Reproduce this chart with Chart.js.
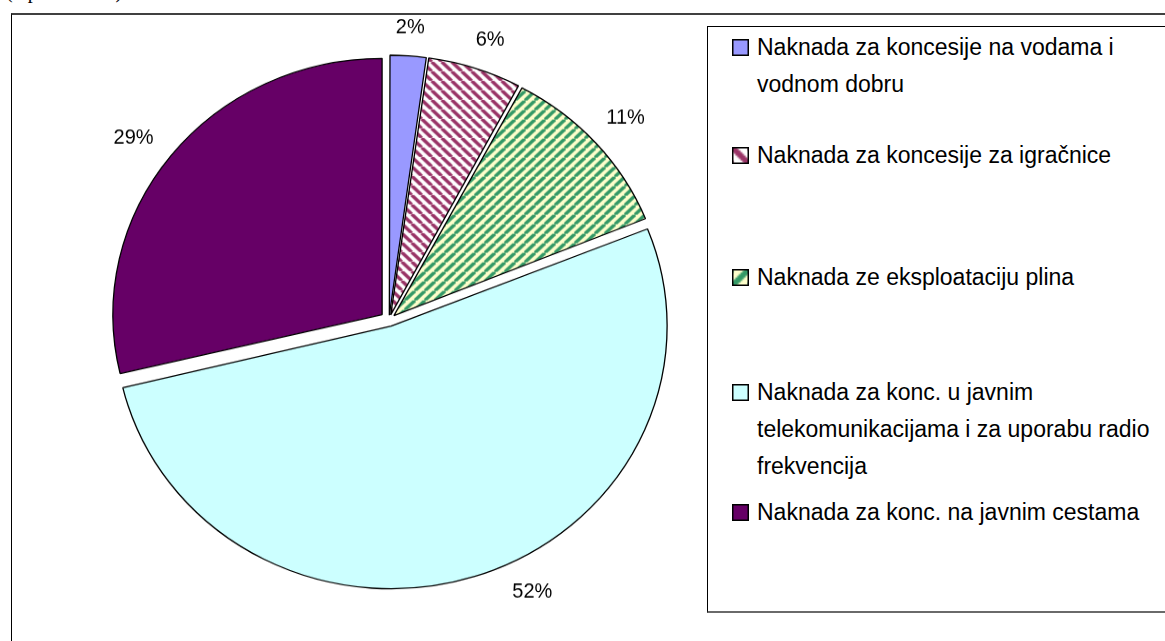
<!DOCTYPE html>
<html>
<head>
<meta charset="utf-8">
<script src="https://cdn.jsdelivr.net/npm/chart.js@4/dist/chart.umd.min.js"></script>
<style>
    html, body { margin: 0; padding: 0; background: #fff; }
    body { width: 1165px; height: 641px; position: relative; overflow: hidden; font-family: "Liberation Sans", Arial, sans-serif; }
    #caption { position: absolute; left: 6px; top: -20px; font: 20px "Liberation Serif", serif; color: #000; }
    #frame { position: absolute; left: 11px; top: 13px; width: 2000px; height: 2000px; border-top: 2px solid #404040; border-left: 1px solid #000; }
    #pieWrap { position: absolute; left: 0; top: 0; transform-origin: 0 0; }
    #legend { position: absolute; left: 707px; top: 26px; width: 1000px; height: 584px; background: #fff; border: 1px solid #000; border-bottom: 2px solid #6a6a6a; }
    .item { position: absolute; left: 24px; font-size: 23px; line-height: 37px; color: #000; white-space: nowrap; }
    .item canvas { position: absolute; left: 0; top: 10px; }
    .item .txt { position: absolute; left: 25px; top: 0; }
</style>
</head>
<body>
<div id="caption">(u postotcima)</div>
<div id="frame"></div>
<div id="pieWrap"><canvas id="pieChart" width="778" height="672"></canvas></div>
<div id="legend"></div>

<script>
/* ================= DATA ================= */

const categories = [
    ["Naknada za koncesije na vodama i", "vodnom dobru"],
    ["Naknada za koncesije za igračnice"],
    ["Naknada ze eksploataciju plina"],
    ["Naknada za konc. u javnim", "telekomunikacijama i za uporabu radio", "frekvencija"],
    ["Naknada za konc. na javnim cestama"]
];

const shares = [2.2, 5.6, 11.1, 52.4, 28.7];

/* ================= STYLE ================= */

const squash = 256 / 269;                  // the original pie is a bit wider than tall
const explode = [9, 9, 9, 14, 9];          // px each slice is pulled out
const legendTops = [2, 110, 232, 347, 467];
const labelShift = [0, 1, 0, -9, -1.5];    // degrees, Excel "best fit" nudges

function stripeTile(bg, fg, rising) {
    const c = document.createElement("canvas");
    c.width = 10; c.height = 10;
    const g = c.getContext("2d");
    g.fillStyle = bg;
    g.fillRect(0, 0, 10, 10);
    g.strokeStyle = fg;
    g.lineWidth = 3.4;
    for (const o of [-10, 0, 10]) {
        g.beginPath();
        if (rising) { g.moveTo(o, 10); g.lineTo(o + 10, 0); }
        else { g.moveTo(o, 0); g.lineTo(o + 10, 10); }
        g.stroke();
    }
    return c;
}

const tiles = [
    null,
    stripeTile("#ffffff", "#993366", false),
    stripeTile("#ffffcc", "#339966", true),
    null,
    null
];
const plainColors = ["#9999ff", null, null, "#ccffff", "#660066"];

function fillFor(ctx, i, scale) {
    if (!tiles[i]) return plainColors[i];
    const pat = ctx.createPattern(tiles[i], "repeat");
    if (scale) pat.setTransform(new DOMMatrix().scale(scale));
    return pat;
}

// Chart.js v4 moves an arc by offset/4 * (1 + fix); undo that so each slice moves explode[i] px
function arcOffsets() {
    const total = shares.reduce((a, b) => a + b, 0);
    return shares.map((v, i) => {
        const circ = v / total * Math.PI * 2;
        const fix = 1 - Math.sin(Math.min(Math.PI, circ));
        return 4 * explode[i] / (1 + fix);
    });
}

/* ================= LEGEND ================= */

function buildLegend() {
    const box = document.getElementById("legend");
    categories.forEach((lines, i) => {
        const item = document.createElement("div");
        item.className = "item";
        item.style.top = legendTops[i] + "px";

        const sw = document.createElement("canvas");
        sw.width = 17; sw.height = 17;
        const g = sw.getContext("2d");
        g.fillStyle = fillFor(g, i, 1.7);
        g.fillRect(0, 0, 17, 17);
        g.strokeStyle = "#000";
        g.lineWidth = 1.5;
        g.strokeRect(0.75, 0.75, 15.5, 15.5);
        item.appendChild(sw);

        const txt = document.createElement("div");
        txt.className = "txt";
        txt.innerHTML = lines.join("<br>");
        item.appendChild(txt);

        box.appendChild(item);
    });
}

/* ================= PERCENT LABELS ================= */

const percentLabels = {
    id: "percentLabels",
    afterDatasetsDraw(chart) {
        const ctx = chart.ctx;
        const meta = chart.getDatasetMeta(0);
        ctx.save();
        ctx.font = '20px "Liberation Sans", Arial, sans-serif';
        ctx.fillStyle = "#000";
        ctx.textAlign = "center";
        ctx.textBaseline = "middle";
        meta.data.forEach((arc, i) => {
            const p = arc.getProps(["x", "y", "startAngle", "endAngle", "outerRadius"], true);
            const mid = (p.startAngle + p.endAngle) / 2 + labelShift[i] * Math.PI / 180;
            const cos = Math.cos(mid), sin = Math.sin(mid);
            const text = Math.round(shares[i]) + "%";
            const w = ctx.measureText(text).width;
            const dist = p.outerRadius + explode[i] + 20 + Math.abs(cos) * w / 2 + Math.abs(sin) * 8.5;
            ctx.save();
            ctx.translate(p.x + cos * dist, p.y + sin * dist);
            ctx.scale(1, 1.05 / squash);
            ctx.fillText(text, 0, 0);
            ctx.restore();
        });
        ctx.restore();
    }
};

/* ================= PIE ================= */

function renderPie() {
    const canvas = document.getElementById("pieChart");
    const ctx = canvas.getContext("2d");
    document.getElementById("pieWrap").style.transform = "scaleY(" + squash + ")";

    new Chart(canvas, {
        type: "pie",
        data: {
            labels: categories.map(l => l.join(" ")),
            datasets: [{
                data: shares,
                backgroundColor: shares.map((v, i) => fillFor(ctx, i)),
                borderColor: "#000000",
                borderWidth: 1.3,
                offset: arcOffsets()
            }]
        },
        options: {
            responsive: false,
            maintainAspectRatio: false,
            devicePixelRatio: 1,
            animation: false,
            radius: 269,
            plugins: {
                legend: { display: false },
                tooltip: { enabled: false }
            }
        },
        plugins: [percentLabels]
    });
}

buildLegend();
renderPie();
</script>
</body>
</html>
